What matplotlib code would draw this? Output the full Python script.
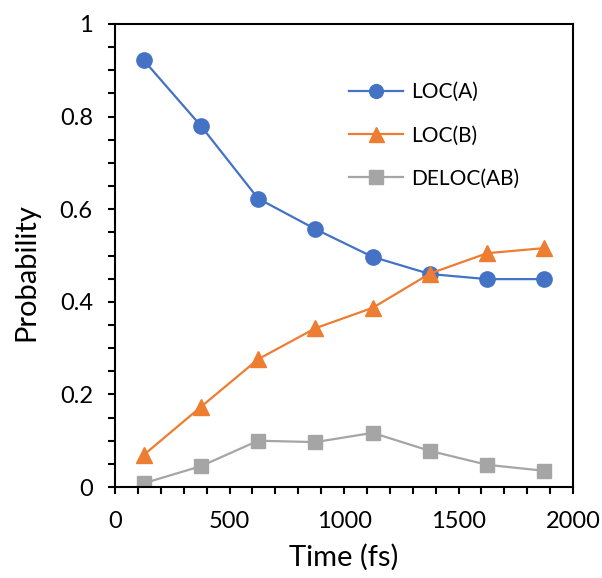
import matplotlib
matplotlib.use("Agg")
import matplotlib.pyplot as plt
from matplotlib.ticker import MultipleLocator, FuncFormatter

plt.rcParams['font.family'] = ['Lato', 'DejaVu Sans']

# Sampling times (fs) and state populations
time_fs = [125, 375, 625, 875, 1125, 1375, 1625, 1875]
loc_a = [0.922, 0.780, 0.623, 0.557, 0.497, 0.460, 0.449, 0.449]
loc_b = [0.069, 0.173, 0.276, 0.343, 0.387, 0.461, 0.505, 0.516]
deloc_ab = [0.008, 0.045, 0.100, 0.097, 0.117, 0.078, 0.048, 0.035]

fig = plt.figure(figsize=(6.02, 5.78), dpi=100)
ax = fig.add_axes([0.191, 0.1574, 0.761, 0.8011])

ax.plot(time_fs, loc_a, color='#4472C4', marker='o', markersize=11, lw=1.6, label='LOC(A)')
ax.plot(time_fs, loc_b, color='#ED7D31', marker='^', markersize=12, lw=1.6, label='LOC(B)')
ax.plot(time_fs, deloc_ab, color='#A5A5A5', marker='s', markersize=10.5, lw=1.6, label='DELOC(AB)')

ax.set_xlim(0, 2000)
ax.set_ylim(0, 1)
ax.xaxis.set_major_locator(MultipleLocator(500))
ax.xaxis.set_minor_locator(MultipleLocator(100))
ax.yaxis.set_major_locator(MultipleLocator(0.2))
ax.yaxis.set_minor_locator(MultipleLocator(0.05))
ax.yaxis.set_major_formatter(FuncFormatter(lambda v, _: f'{v:g}'))

for side in ax.spines.values():
    side.set_linewidth(1.5)
ax.tick_params(which='both', direction='out', length=5, width=1.5)
ax.tick_params(axis='x', which='major', labelsize=17, pad=12)
ax.tick_params(axis='y', which='major', labelsize=17, pad=11)

ax.set_xlabel('Time (fs)', fontsize=21)
ax.set_ylabel('Probability', fontsize=21)
ax.xaxis.set_label_coords(0.5, -0.122)
ax.yaxis.set_label_coords(-0.165, 0.464)

ax.legend(loc='upper left', bbox_to_anchor=(0.47, 0.915), frameon=False, fontsize=15,
          handlelength=2.6, labelspacing=1.12, handletextpad=0.4, markerscale=0.9)

fig.savefig('out.png', dpi=100)
